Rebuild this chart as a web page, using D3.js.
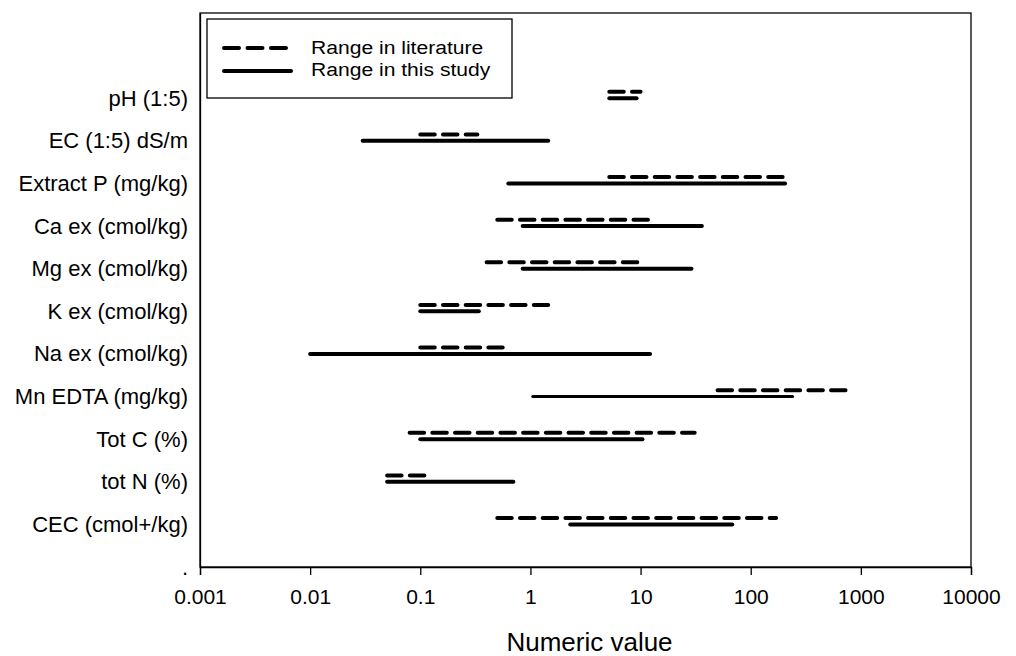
<!DOCTYPE html>
<html>
<head>
<meta charset="utf-8">
<script src="https://cdn.jsdelivr.net/npm/d3@7"></script>
<style>
    body { margin: 0; background: #fff; }
    text { font-family: "Liberation Sans", Arial, sans-serif; fill: #000; }
</style>
</head>
<body>
<div id="svgCanvas"></div>
<script>
const margin = {top: 13, right: 45, bottom: 89, left: 200}, width = 771, height = 554;

// values (top row first)
const categories = ["pH (1:5)", "EC (1:5) dS/m", "Extract P (mg/kg)", "Ca ex (cmol/kg)", "Mg ex (cmol/kg)",
    "K ex (cmol/kg)", "Na ex (cmol/kg)", "Mn EDTA (mg/kg)", "Tot C (%)", "tot N (%)", "CEC (cmol+/kg)"]
const litLow = [5.2, 0.1, 5.2, 0.5, 0.4, 0.1, 0.1, 50, 0.08, 0.05, 0.5]
const litHigh = [10, 0.33, 195, 13, 10, 1.45, 0.56, 780, 31, 0.12, 170]
const studyLow = [5.2, 0.03, 0.63, 0.85, 0.85, 0.1, 0.01, 1.05, 0.1, 0.05, 2.3]
const studyHigh = [9.2, 1.45, 205, 36, 29, 0.34, 12.2, 240, 10.4, 0.7, 68]
const xTicks = [0.001, 0.01, 0.1, 1, 10, 100, 1000, 10000]
const xTickLabels = ["0.001", "0.01", "0.1", "1", "10", "100", "1000", "10000"]
const legendLabels = ["Range in literature", "Range in this study"]

const litOffset = 0.15   // literature line sits a bit above the category
const dashes = "14.5,8.2"

const xScale = d3.scaleLog().domain([0.001, 10000]).range([0, width]);
const yScale = d3.scaleLinear().domain([0, 13]).range([height, 0]);

const root = d3.select("#svgCanvas")
    .append("svg")
    .attr("width", width + margin.left + margin.right)
    .attr("height", height + margin.top + margin.bottom)
const svg = root.append("g")
    .attr("transform", "translate(" + margin.left + "," + margin.top + ")");

function catPos(i) {
    return categories.length - i
}

// frame
svg.append("rect")
    .attr("width", width).attr("height", height)
    .attr("fill", "none").attr("stroke", "#000").attr("stroke-width", 1.3)

// x axis
const xAxis = svg.append("g")
    .attr("transform", "translate(0," + height + ")")
    .call(d3.axisBottom(xScale).tickValues(xTicks)
        .tickFormat((d, i) => xTickLabels[i]).tickSize(8).tickPadding(14))
xAxis.select(".domain").attr("stroke-width", 1.3)
xAxis.selectAll("line").attr("stroke-width", 1.3)
xAxis.selectAll("text").style("font-size", "21px").attr("font-family", null)

// y axis with category labels, bottom tick shows "."
const yAxis = svg.append("g")
    .call(d3.axisLeft(yScale).tickValues(d3.range(0, categories.length + 1))
        .tickFormat(d => d === 0 ? "." : categories[categories.length - d])
        .tickSize(0).tickPadding(12))
yAxis.select(".domain").attr("stroke-width", 1.3)
yAxis.selectAll("text").style("font-size", "22px").attr("font-family", null)

// literature ranges (dashed)
svg.selectAll(".lit")
    .data(categories)
    .enter().append("line")
    .attr("class", "lit")
    .attr("x1", (d, i) => xScale(litLow[i]))
    .attr("x2", (d, i) => xScale(litHigh[i]))
    .attr("y1", (d, i) => yScale(catPos(i) + litOffset))
    .attr("y2", (d, i) => yScale(catPos(i) + litOffset))
    .attr("stroke", "#000")
    .attr("stroke-width", 4)
    .attr("stroke-linecap", "round")
    .attr("stroke-dasharray", dashes)

// this study ranges (solid)
svg.selectAll(".study")
    .data(categories)
    .enter().append("line")
    .attr("class", "study")
    .attr("x1", (d, i) => xScale(studyLow[i]))
    .attr("x2", (d, i) => xScale(studyHigh[i]))
    .attr("y1", (d, i) => yScale(catPos(i)))
    .attr("y2", (d, i) => yScale(catPos(i)))
    .attr("stroke", "#000")
    .attr("stroke-width", (d, i) => i === 7 ? 3 : 4)
    .attr("stroke-linecap", "round")

// x axis title
svg.append("text")
    .attr("x", width / 2 + 4)
    .attr("y", height + 84)
    .attr("text-anchor", "middle")
    .style("font-size", "26px")
    .text("Numeric value")

// legend
const legend = svg.append("g").attr("transform", "translate(7,6)")
legend.append("rect")
    .attr("width", 305).attr("height", 79)
    .attr("fill", "#fff").attr("stroke", "#000").attr("stroke-width", 1.3)
legendLabels.forEach((label, i) => {
    const ly = 29 + i * 23
    legend.append("line")
        .attr("x1", 17).attr("x2", i === 0 ? 79 : 84)
        .attr("y1", ly).attr("y2", ly)
        .attr("stroke", "#000").attr("stroke-width", 4)
        .attr("stroke-linecap", "round")
        .attr("stroke-dasharray", i === 0 ? "15,8.5" : null)
    // text is a little wide in the original, so stretch it sideways
    legend.append("text")
        .attr("transform", "translate(104," + (35 + i * 22) + ") scale(1.11,1)")
        .style("font-size", "19px")
        .text(label)
})
</script>
</body>
</html>
